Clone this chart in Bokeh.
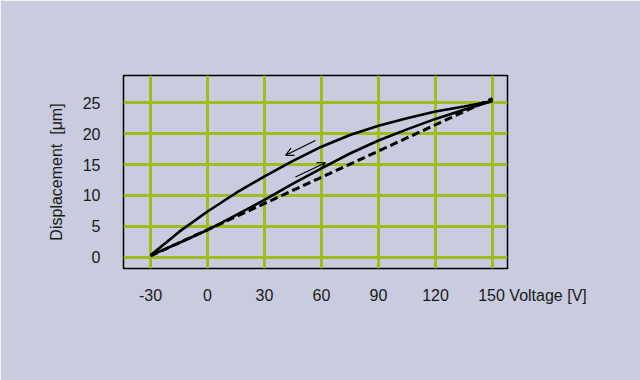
from bokeh.plotting import figure
from bokeh.models import Arrow, OpenHead, FixedTicker, Range1d
from bokeh.embed import file_html
from bokeh.resources import INLINE

# ---- data ----
voltage = [-30, -15, 0, 15, 30, 45, 60, 75, 90, 105, 120, 135, 150]
disp_down = [0.3, 4.1, 7.4, 10.4, 13.1, 15.6, 17.9, 19.8, 21.3, 22.5, 23.6, 24.4, 25.3]   # upper branch (decreasing V)
disp_up = [0.3, 2.3, 4.4, 6.8, 9.3, 11.9, 14.4, 16.8, 18.9, 20.7, 22.4, 23.9, 25.3]       # lower branch (increasing V)
linear_v = [-30, 150]
linear_d = [0.2, 25.7]

x_ticks = [-30, 0, 30, 60, 90, 120, 150]
x_tick_labels = ["-30", "0", "30", "60", "90", "120", "150"]
y_ticks = [0, 5, 10, 15, 20, 25]

x_title = "Voltage [V]"
y_title = "Displacement  [μm]"

# arrows (data coordinates): start -> end
arrow_down = dict(x0=56.8, y0=18.9, x1=41.1, y1=16.5)
arrow_up = dict(x0=46.3, y0=13.0, x1=62.1, y1=15.3)

BG = "#C9CBDE"
GRID = "#9DBE1C"
FONT = "Liberation Sans"
TXT = "#1a1a1a"
NB = "\u00a0"

p = figure(width=640, height=380, output_backend="svg", toolbar_location=None,
           x_range=Range1d(-44.2, 157.9), y_range=Range1d(-1.83, 29.43),
           min_border_left=123, min_border_right=133, min_border_top=75, min_border_bottom=112)
p.background_fill_color = BG
p.border_fill_color = BG
p.outline_line_color = "black"
p.outline_line_width = 1.5

for ax in (p.xaxis, p.yaxis):
    ax.axis_line_color = None
    ax.major_tick_line_color = None
    ax.minor_tick_line_color = None
    ax.major_label_text_font = FONT
    ax.major_label_text_font_size = "16px"
    ax.major_label_text_color = TXT

# x tick labels; the axis title sits on the same line, right of the last tick label
overrides = {}
for t, lab in zip(x_ticks, x_tick_labels):
    overrides[t] = lab
last = x_ticks[-1]
suffix = NB + x_title.replace(" ", NB)
overrides[last] = NB * 18 + x_tick_labels[-1] + suffix
p.xaxis.ticker = FixedTicker(ticks=x_ticks)
p.xaxis.major_label_overrides = overrides
p.xaxis.major_label_standoff = 12

p.yaxis.ticker = FixedTicker(ticks=y_ticks)
p.yaxis.major_label_standoff = 17
p.yaxis.axis_label = y_title.replace(" ", NB)
p.yaxis.axis_label_text_font = FONT
p.yaxis.axis_label_text_font_size = "16px"
p.yaxis.axis_label_text_font_style = "normal"
p.yaxis.axis_label_text_color = TXT
p.yaxis.axis_label_standoff = 15

p.xgrid.ticker = FixedTicker(ticks=x_ticks)
p.ygrid.ticker = FixedTicker(ticks=y_ticks)
for g in (p.xgrid, p.ygrid):
    g.grid_line_color = GRID
    g.grid_line_width = 3
    g.grid_line_alpha = 1.0

p.line(linear_v, linear_d, line_color="black", line_width=3, line_dash="8 4")
p.line(voltage, disp_up, line_color="black", line_width=2.6)
p.line(voltage, disp_down, line_color="black", line_width=2.6)

for a in (arrow_down, arrow_up):
    p.add_layout(Arrow(end=OpenHead(size=8, line_width=1.2, line_color="black"),
                       x_start=a["x0"], y_start=a["y0"], x_end=a["x1"], y_end=a["y1"],
                       line_width=1.2, line_color="black"))

open("out.html", "w").write(file_html(p, INLINE))
